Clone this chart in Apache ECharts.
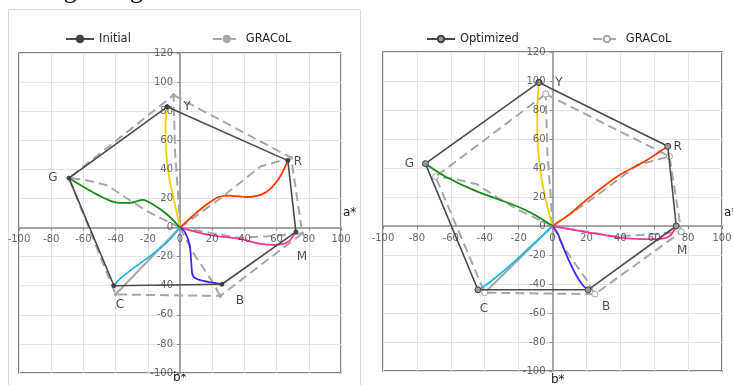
<!DOCTYPE html>
<html><head><meta charset="utf-8">
<script src="https://cdn.jsdelivr.net/npm/echarts@6/dist/echarts.min.js"></script>
<style>html,body{margin:0;padding:0;background:#fff}#c{width:733px;height:385px}</style>
</head><body><div id="c"></div>
<script>
// ---------- data ----------
const cornerNames = ['Y','R','M','B','C','G'];
const axisTicksA = [-100,-80,-60,-40,-20,0,20,40,60,80,100];
const axisTicksB = [-100,-80,-60,-40,-20,0,20,40,60,80,100,120];

const initialCorners   = [[-8,83],[67,46],[72,-3],[26,-39],[-41,-40],[-69,34]];
const optimizedCorners = [[-8,99],[68,55],[73,0],[21,-44],[-44,-44],[-75,43]];
const gracolCorners    = [[-4,91],[69,48],[76,-4],[25,-47],[-40,-46],[-69,34]];

// Initial ramps (left)
const initRampY = [[0,0],[-3,15],[-6,30],[-8,45],[-9,60],[-9,70],[-8,83]];
const initRampR = [[0,0],[9,9],[18,17],[24,21],[30,22],[42,21],[53,24],[61,33],[67,46]];
const initRampM = [[0,0],[18,-5],[38,-8],[49,-11],[59,-12],[67,-10],[72,-3]];
const initRampB = [[0,0],[3,-3],[6,-12],[7,-24],[8,-33],[12,-36],[21,-38],[26,-39]];
const initRampC = [[0,0],[-8,-10],[-19,-20],[-29,-28],[-37,-35],[-41,-40]];
const initRampG = [[0,0],[-8,9],[-17,16],[-23,19],[-31,17],[-38,17],[-52,23],[-69,34]];

// Optimized ramps (right)
const optRampY = [[0,0],[-4,18],[-7,37],[-9,64],[-9,80],[-8,99]];
const optRampR = [[0,0],[10,8],[20,18],[38,34],[55,45],[68,55]];
const optRampM = [[0,0],[19,-4],[40,-8],[52,-9],[61,-9],[69,-7],[73,0]];
const optRampB = [[0,0],[3,-5],[5,-11],[9,-22],[14,-34],[18,-41],[21,-44]];
const optRampC = [[0,0],[-10,-11],[-22,-24],[-33,-35],[-42,-43],[-44,-44]];
const optRampG = [[0,0],[-8,6],[-16,11],[-24,15],[-45,24],[-63,34],[-75,43]];

// GRACoL ramps
const graRampY = [[0,0],[-1,20],[-3,50],[-4,91]];
const graRampR = [[0,0],[25,20],[50,42],[69,48]];
const graRampM = [[0,0],[36,-7],[55,-6],[76,-4]];
const graRampB = [[0,0],[8,-17],[20,-37],[25,-47]];
const graRampC = [[0,0],[-40,-46]];
const graRampG = [[0,0],[-20,11],[-33,20],[-45,29],[-60,33],[-69,34]];

// ---------- styles ----------
const rampColors = {Y:'#f4d000', R:'#ff3a00', M:'#ff3399', B:'#4a22e6', C:'#1eb6ef', G:'#17891a'};
const labelOffsets = {Y:[20,0], R:[10,1], M:[6,25], B:[18,17], C:[6,19], G:[-16,0]};
const FONT = 'DejaVu Sans';
const GRAY = '#a6a6a6';

const chart = echarts.init(document.getElementById('c'), null, {renderer:'canvas'});

function axisX(gi){
  return {type:'value', gridIndex:gi, min:-100, max:100, interval:20,
    axisLine:{onZero:true, lineStyle:{color:'#8c8c8c', width:1.5}},
    axisTick:{show:true, length:3, lineStyle:{color:'#8c8c8c'}},
    axisLabel:{show:false},
    splitLine:{show:true, lineStyle:{color:'#e4e4e4', width:1}}};
}
function axisY(gi){
  return {type:'value', gridIndex:gi, min:-100, max:120, interval:20,
    axisLine:{onZero:true, lineStyle:{color:'#8c8c8c', width:1.5}},
    axisTick:{show:true, length:3, lineStyle:{color:'#8c8c8c'}},
    axisLabel:{show:false},
    splitLine:{show:true, lineStyle:{color:'#e4e4e4', width:1}}};
}

function tickLabelSeries(gi){
  return [
    {type:'scatter', xAxisIndex:gi, yAxisIndex:gi, symbolSize:0, silent:true, z:7,
      data: axisTicksA.map(t=>[t,0,t]),
      label:{show:true, position:'bottom', distance:7, color:'#404040', fontSize:10, fontFamily:FONT,
        formatter:(p)=>String(p.value[2])}},
    {type:'scatter', xAxisIndex:gi, yAxisIndex:gi, symbolSize:0, silent:true, z:7,
      data: axisTicksB.map(t=>[0,t,t]),
      label:{show:true, position:'left', distance:7, color:'#404040', fontSize:10, fontFamily:FONT,
        formatter:(p)=>String(p.value[2])}}
  ];
}

function panelSeries(gi, polyName, corners, polySymbol, gName, gSymbol, ramps){
  const s = [];
  const keys = ['Y','R','M','B','C','G'];
  const gRamps = [graRampY, graRampR, graRampM, graRampB, graRampC, graRampG];
  gRamps.forEach((r,i)=>{
    s.push({type:'line', xAxisIndex:gi, yAxisIndex:gi, data:r, symbol:'none', z:2,
      lineStyle:{color:GRAY, width:2, type: keys[i]==='C' ? 'solid' : [9,5]}, silent:true});
  });
  s.push({name:gName, type:'line', xAxisIndex:gi, yAxisIndex:gi, z:3,
    data:[...gracolCorners, gracolCorners[0]],
    symbol:'circle', symbolSize:gSymbol.size, showAllSymbol:true,
    itemStyle:{color:gSymbol.fill, borderColor:GRAY, borderWidth:1},
    lineStyle:{color:GRAY, width:2, type:[9,5]}});
  ramps.forEach((r,i)=>{
    s.push({type:'line', xAxisIndex:gi, yAxisIndex:gi, data:r, symbol:'none', z:4,
      smooth:0.3, lineStyle:{color:rampColors[keys[i]], width:1.8}, silent:true});
  });
  s.push({name:polyName, type:'line', xAxisIndex:gi, yAxisIndex:gi, z:5,
    data:[...corners, corners[0]],
    symbol:'circle', symbolSize:polySymbol.size, showAllSymbol:true,
    itemStyle:{color:polySymbol.fill, borderColor:'#404040', borderWidth:1},
    lineStyle:{color:'#4a4a4a', width:1.6}});
  s.push({type:'scatter', xAxisIndex:gi, yAxisIndex:gi, symbolSize:0, z:6, silent:true,
    data: corners.map((p,i)=>({value:p, label:{offset:labelOffsets[cornerNames[i]]}})),
    label:{show:true, position:'inside', color:'#1a1a1a', fontSize:12, fontFamily:FONT,
      formatter:(p)=>cornerNames[p.dataIndex]}});
  s.push(...tickLabelSeries(gi));
  return s;
}

const series = [
  ...panelSeries(0, 'Initial', initialCorners, {size:4, fill:'#404040'}, 'GRACoL', {size:3, fill:GRAY},
    [initRampY, initRampR, initRampM, initRampB, initRampC, initRampG]),
  ...panelSeries(1, 'Optimized', optimizedCorners, {size:6, fill:'#9a9a9a'}, 'GRACoL2', {size:6, fill:'#ffffff'},
    [optRampY, optRampR, optRampM, optRampB, optRampC, optRampG])
];

const legendText = {fontSize:11.5, color:'#262626', fontFamily:FONT};
chart.setOption({
  animation:false,
  backgroundColor:'#ffffff',
  grid:[
    {left:19, top:53, width:322, height:320, show:true, borderColor:'#5a5a5a', borderWidth:1.5,
      backgroundColor:'transparent', outerBoundsMode:'none', containLabel:false},
    {left:383, top:52, width:339, height:319, show:true, borderColor:'#5a5a5a', borderWidth:1.5,
      backgroundColor:'transparent', outerBoundsMode:'none', containLabel:false}
  ],
  xAxis:[axisX(0), axisX(1)],
  yAxis:[axisY(0), axisY(1)],
  legend:[
    {left:65, top:33, padding:0, itemWidth:28, itemHeight:8, itemGap:81, data:['Initial','GRACoL'], textStyle:legendText},
    {left:426, top:33, padding:0, itemWidth:28, itemHeight:8, itemGap:73, data:['Optimized','GRACoL2'], textStyle:legendText,
      formatter:(n)=> n==='GRACoL2' ? 'GRACoL' : n}
  ],
  graphic:[
    {type:'rect', shape:{x:8.5, y:9.5, width:352, height:420}, style:{fill:'none', stroke:'#d9d9d9', lineWidth:1}, z:-1},
    {type:'text', x:-2, y:-9, style:{text:'ace engraving.', font:'26px "Liberation Serif"', fill:'#111', verticalAlign:'middle'}},
    {type:'text', x:343, y:213, style:{text:'a*', font:'12px "DejaVu Sans"', fill:'#1a1a1a', verticalAlign:'middle'}},
    {type:'text', x:173, y:378, style:{text:'b*', font:'12px "DejaVu Sans"', fill:'#1a1a1a', verticalAlign:'middle'}},
    {type:'text', x:724, y:213, style:{text:'a*', font:'12px "DejaVu Sans"', fill:'#1a1a1a', verticalAlign:'middle'}},
    {type:'text', x:551, y:380, style:{text:'b*', font:'12px "DejaVu Sans"', fill:'#1a1a1a', verticalAlign:'middle'}}
  ],
  series: series
});
</script></body></html>
